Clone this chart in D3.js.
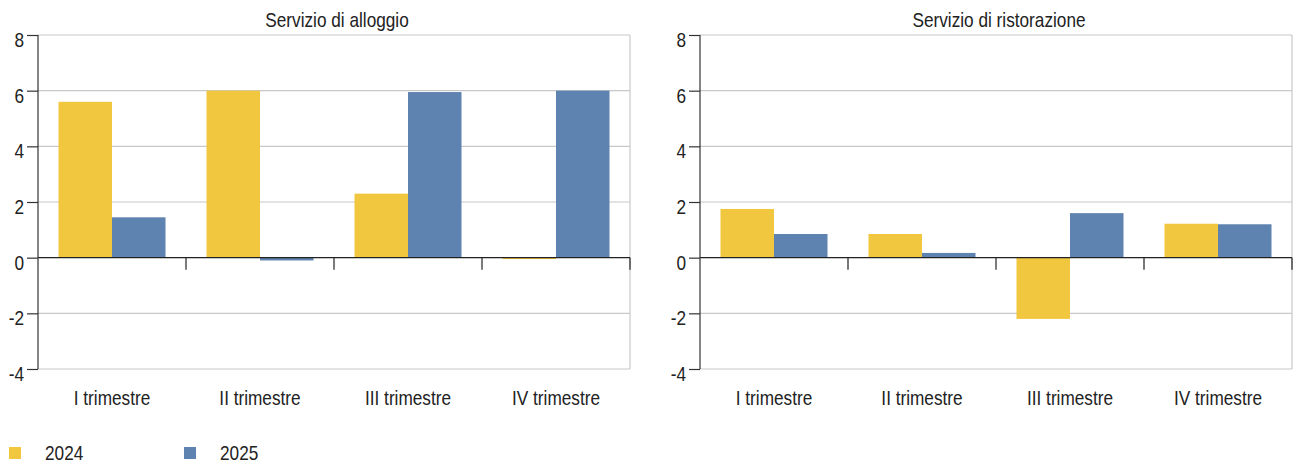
<!DOCTYPE html>
<html><head><meta charset="utf-8">
<script src="https://cdn.jsdelivr.net/npm/d3@7"></script>
<style>
html,body{margin:0;padding:0;background:#fff;}
svg text{font-family:"Liberation Sans",Arial,sans-serif;fill:#222;}
</style></head>
<body><svg id="c" width="1293" height="464"></svg>
<script>
const categories = ["I trimestre","II trimestre","III trimestre","IV trimestre"];
const seriesNames = ["2024","2025"];
const panelTitles = ["Servizio di alloggio","Servizio di ristorazione"];
const alloggio2024 = [5.6, 6.0, 2.3, -0.05];
const alloggio2025 = [1.45, -0.1, 5.95, 6.0];
const ristorazione2024 = [1.75, 0.85, -2.2, 1.22];
const ristorazione2025 = [0.85, 0.17, 1.6, 1.2];
const yTicks = [-4,-2,0,2,4,6,8];
const colors = ["#f1c740","#5f83b0"];

const FS = 21, SX = 0.82;
const panels = [
  {title: panelTitles[0], data: [alloggio2024, alloggio2025], x0: 38, x1: 630},
  {title: panelTitles[1], data: [ristorazione2024, ristorazione2025], x0: 700, x1: 1292}
];
const svg = d3.select("#c");
const y = d3.scaleLinear().domain([-4,8]).range([369,35]);

function label(sel, x, yy, txt, anchor){
  return sel.append("text").attr("transform",`translate(${x},${yy}) scale(${SX},1)`)
    .attr("text-anchor",anchor).attr("font-size",FS).text(txt);
}

panels.forEach(p => {
  const g = svg.append("g");
  const x = d3.scaleBand().domain(categories).range([p.x0,p.x1]).paddingInner(0).paddingOuter(0);
  const xs = d3.scaleBand().domain(seriesNames).range([0,x.bandwidth()]).paddingInner(0).paddingOuter(0.383);
  g.selectAll("line.grid").data(yTicks.filter(t=>t!==0)).enter().append("line")
    .attr("x1",p.x0).attr("x2",p.x1).attr("y1",d=>y(d)).attr("y2",d=>y(d))
    .attr("stroke","#c8c8c8").attr("stroke-width",1.2);
  g.append("line").attr("x1",p.x1).attr("x2",p.x1).attr("y1",y(8)).attr("y2",y(-4))
    .attr("stroke","#c8c8c8").attr("stroke-width",1.2);
  p.data.forEach((vals,si) => {
    g.selectAll(null).data(vals.map((v,i)=>({v,c:categories[i]}))).enter().append("rect")
      .attr("x",d=>x(d.c)+xs(seriesNames[si]))
      .attr("width",xs.bandwidth())
      .attr("y",d=>y(Math.max(0,d.v)))
      .attr("height",d=>Math.max(1,Math.abs(y(d.v)-y(0))))
      .attr("fill",colors[si]);
  });
  g.append("line").attr("x1",p.x0).attr("x2",p.x1).attr("y1",y(0)).attr("y2",y(0))
    .attr("stroke","#222").attr("stroke-width",1.2);
  const bounds = categories.slice(1).map(c=>x(c)).concat([p.x1]);
  g.selectAll(null).data(bounds).enter().append("line")
    .attr("x1",d=>d).attr("x2",d=>d).attr("y1",y(0)).attr("y2",y(0)+12)
    .attr("stroke","#222").attr("stroke-width",1.2);
  const ax = g.append("g").attr("transform",`translate(${p.x0},0)`)
    .call(d3.axisLeft(y).tickValues(yTicks).tickSize(11).tickFormat(""));
  ax.select(".domain").attr("stroke","#333").attr("stroke-width",1.2).attr("d",`M0,${y(8)}V${y(-4)}`);
  ax.selectAll(".tick line").attr("stroke","#333").attr("stroke-width",1.2);
  ax.selectAll(".tick text").remove();
  yTicks.forEach(t => label(g, p.x0-14, y(t)+12, String(t), "end"));
  categories.forEach(c => label(g, x(c)+x.bandwidth()/2, 405, c, "middle"));
  label(g, (p.x0+p.x1)/2+3, 27, p.title, "middle");
});

const lx = [9,184];
seriesNames.forEach((s,i)=>{
  svg.append("rect").attr("x",lx[i]).attr("y",447).attr("width",12).attr("height",12).attr("fill",colors[i]);
  label(svg, lx[i]+36, 460, s, "start");
});
</script></body></html>
